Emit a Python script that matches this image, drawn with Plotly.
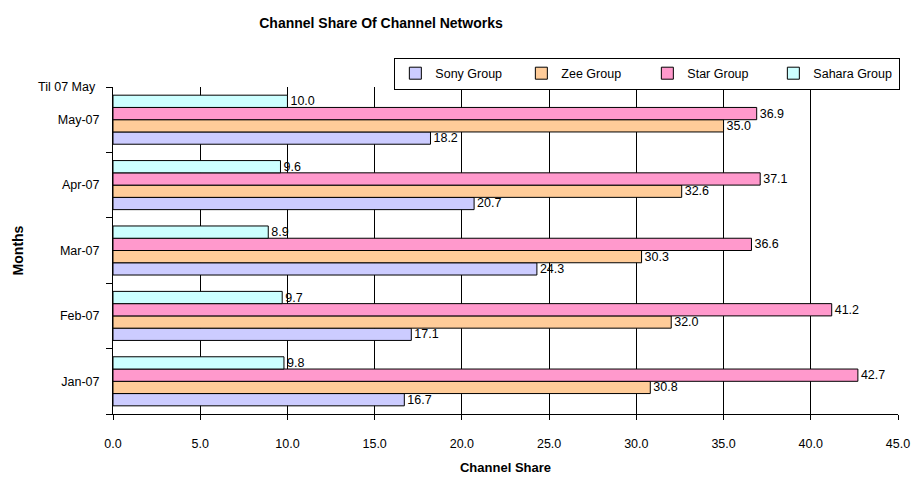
import plotly.graph_objects as go

months = ["Jan-07", "Feb-07", "Mar-07", "Apr-07", "May-07"]
sony = [16.7, 17.1, 24.3, 20.7, 18.2]
zee = [30.8, 32.0, 30.3, 32.6, 35.0]
star = [42.7, 41.2, 36.6, 37.1, 36.9]
sahara = [9.8, 9.7, 8.9, 9.6, 10.0]

series = [
    ("Sony Group", sony, "#CCCCFF"),
    ("Zee Group", zee, "#FFCC99"),
    ("Star Group", star, "#FF99CC"),
    ("Sahara Group", sahara, "#CCFFFF"),
]

FONT = "Liberation Sans, Arial, sans-serif"

fig = go.Figure()
for name, vals, col in series:
    fig.add_trace(go.Bar(
        y=months, x=vals, name=name, orientation="h",
        marker=dict(color=col, line=dict(color="black", width=1)),
        texttemplate="%{x:.1f}", textposition="outside",
        textfont=dict(size=12.5, color="black", family=FONT),
        constraintext="none",
        cliponaxis=False,
    ))

W, H = 922, 484
L, R, T, B = 113, 19, 87, 63

fig.update_layout(
    width=W, height=H,
    margin=dict(l=L, r=R, t=T, b=B),
    paper_bgcolor="white", plot_bgcolor="white",
    barmode="group", bargap=0.25, bargroupgap=0,
    font=dict(family=FONT, size=12.5, color="black"),
    title=dict(text="<b>Channel Share Of Channel Networks</b>",
               x=381 / W, xref="container", xanchor="center",
               y=1 - 23 / H, yref="container", yanchor="middle",
               font=dict(size=14, family=FONT)),
    legend=dict(orientation="h", x=1.003, xanchor="right", y=1.09, yanchor="top",
                bordercolor="black", borderwidth=1, bgcolor="white",
                font=dict(size=12.5), traceorder="normal",
                itemwidth=30, tracegroupgap=0,
                entrywidth=81, entrywidthmode="pixels"),
    showlegend=True,
)

fig.update_xaxes(
    range=[0, 45], dtick=5, tickformat=".1f",
    showgrid=True, gridcolor="black", gridwidth=1,
    showline=True, linecolor="black", linewidth=1,
    ticks="outside", ticklen=5, tickcolor="black",
    zeroline=False,
    ticklabelstandoff=13,
    title=dict(text="<b>Channel Share</b>", font=dict(size=13), standoff=12),
)
fig.update_yaxes(
    type="category", categoryorder="array", categoryarray=months,
    showgrid=False, showline=True, linecolor="black", linewidth=1,
    ticks="outside", tickson="boundaries", ticklen=6, tickcolor="black",
    ticklabelstandoff=10,
    title=dict(text="<b>Months</b>", font=dict(size=14), standoff=30),
)

fig.add_annotation(
    text="Til 07 May", xref="paper", yref="paper", x=0, y=1,
    xanchor="right", yanchor="middle", xshift=-15, showarrow=False,
    font=dict(size=12.5, color="black"),
)

fig.write_html("out.html")
